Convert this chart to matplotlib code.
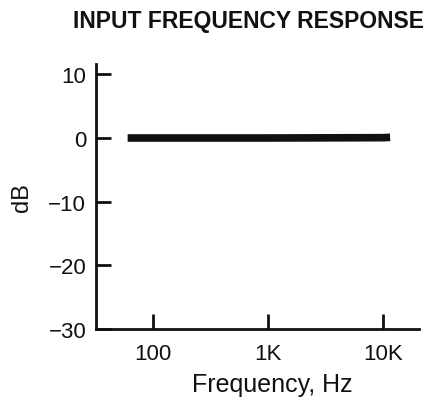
import matplotlib.pyplot as plt

plt.rcParams['font.family'] = ['Liberation Sans', 'DejaVu Sans']

# Data
freq_hz = [60, 100, 1000, 10000, 11500]
level_db = [0.0, 0.0, 0.0, 0.05, 0.1]

x_ticks = [100, 1000, 10000]
x_tick_labels = ["100", "1K", "10K"]
y_ticks = [10, 0, -10, -20, -30]
y_tick_labels = ["10", "0", "\u221210", "\u221220", "\u221230"]

fig = plt.figure(figsize=(4.36, 4.02), dpi=100)
ax = fig.add_axes([0.220, 0.179, 0.741, 0.659])

ax.plot(freq_hz, level_db, color="#111111", linewidth=5.5, solid_capstyle="butt")

ax.set_xscale("log")
ax.set_xlim(31.8, 20500)
ax.set_ylim(-30, 11.6)

ax.set_xticks(x_ticks)
ax.set_xticklabels(x_tick_labels)
ax.minorticks_off()
ax.set_yticks(y_ticks)
ax.set_yticklabels(y_tick_labels)

ax.tick_params(axis="both", direction="in", length=11, width=2, labelsize=16,
               color="#111111", labelcolor="#111111")
ax.tick_params(axis="x", pad=10)
ax.tick_params(axis="y", pad=7)

for side in ["top", "right"]:
    ax.spines[side].set_visible(False)
for side in ["left", "bottom"]:
    ax.spines[side].set_linewidth(2)
    ax.spines[side].set_color("#111111")

ax.set_xlabel("Frequency, Hz", fontsize=18, color="#111111")
ax.xaxis.set_label_coords(0.545, -0.163)
ax.set_ylabel("dB", fontsize=17, color="#111111", labelpad=11)

fig.text(0.570, 0.946, "INPUT FREQUENCY RESPONSE", ha="center", va="center",
         fontsize=16.5, fontweight="bold", color="#111111")

fig.savefig("out.png", dpi=100)
